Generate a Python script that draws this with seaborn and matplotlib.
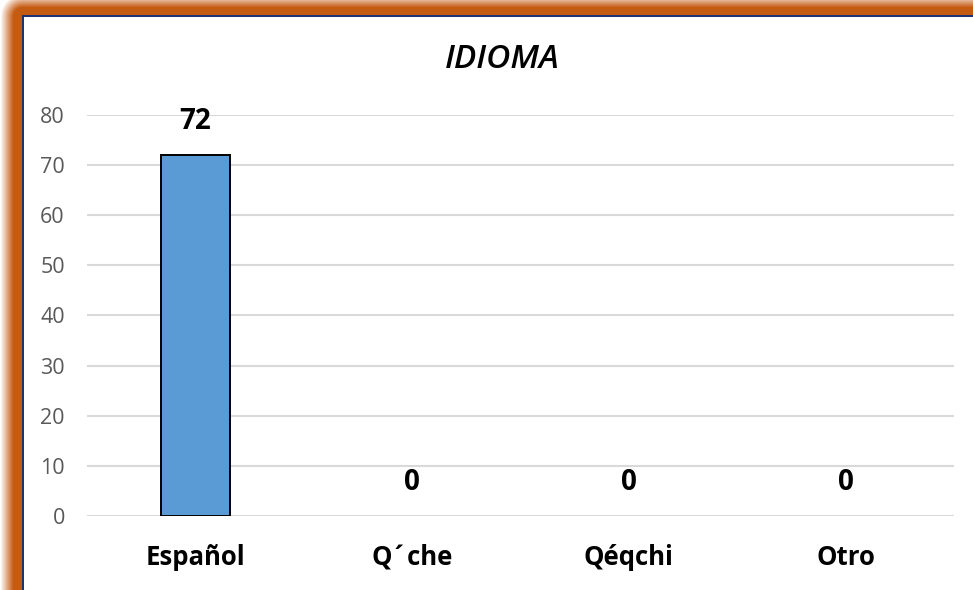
import numpy as np
import pandas as pd
import matplotlib
matplotlib.use("Agg")
import matplotlib.pyplot as plt
import seaborn as sns

categories = ["Español", "Q´che", "Qéqchi", "Otro"]
values = [72, 0, 0, 0]
yticks = [0, 10, 20, 30, 40, 50, 60, 70, 80]
title = "IDIOMA"

df = pd.DataFrame({"idioma": categories, "n": values})

sns.set_theme(style="white")
plt.rcParams["font.family"] = ["Open Sans", "DejaVu Sans"]

W, H = 973, 590
fig = plt.figure(figsize=(W / 100, H / 100), dpi=100)

# decorative frame (orange border with soft shadow + navy inner line)
bg = fig.add_axes([0, 0, 1, 1], zorder=0)
img = np.ones((H, W, 4))
yy, xx = np.mgrid[0:H, 0:W]
px, py = 22, 16
dx = np.clip(px - xx, 0, None)
dy = np.clip(py - yy, 0, None)
d = np.sqrt(dx ** 2 + dy ** 2)
outside = (xx < px) | (yy < py)
alpha = np.where(d < 9, 1.0, np.clip(1 - (d - 9) / 13, 0, 1))
orange = np.array([0.773, 0.353, 0.067])
for c in range(3):
    img[..., c] = np.where(outside, 1 - alpha * (1 - orange[c]), 1.0)
navy = np.array([0.12, 0.2, 0.45])
line_mask = ((xx >= px) & (xx < px + 2) & (yy >= py - 1)) | ((yy >= py - 1) & (yy < py + 1) & (xx >= px))
for c in range(3):
    img[..., c] = np.where(line_mask, navy[c], img[..., c])
bg.imshow(img, aspect="auto", interpolation="nearest")
bg.axis("off")

ax = fig.add_axes([87 / W, 74 / H, (954 - 87) / W, (516 - 115) / H], zorder=1)
ax.patch.set_alpha(0)
sns.barplot(data=df, x="idioma", y="n", ax=ax, color="#5b9bd5",
            edgecolor="black", linewidth=1.4, width=0.315, saturation=1)
for p in ax.patches:
    if p.get_height() == 0:
        p.set_linewidth(0)

ax.set_ylim(0, 80)
ax.set_yticks(yticks)
ax.set_xlim(-0.5, len(categories) - 0.5)
ax.yaxis.grid(True, color="#d9d9d9", linewidth=1.5)
ax.set_axisbelow(True)
for s in ax.spines.values():
    s.set_visible(False)
ax.set_xlabel("")
ax.set_ylabel("")
ax.tick_params(axis="y", length=0, pad=16, labelsize=15.5, labelcolor="#595959")
ax.tick_params(axis="x", length=0, pad=20, labelsize=18.5)
for lbl in ax.get_xticklabels():
    lbl.set_fontweight("bold")
    lbl.set_color("black")

for i, v in enumerate(values):
    ax.annotate(f"{v}", (i, v), xytext=(0, 14), textcoords="offset points",
                ha="center", va="bottom", fontsize=20, fontweight="bold", color="black")

fig.text(502 / W, (H - 60) / H, title, ha="center", va="center",
         fontsize=24, fontstyle="italic", fontweight="semibold", color="black")

fig.savefig("out.png", dpi=100)
